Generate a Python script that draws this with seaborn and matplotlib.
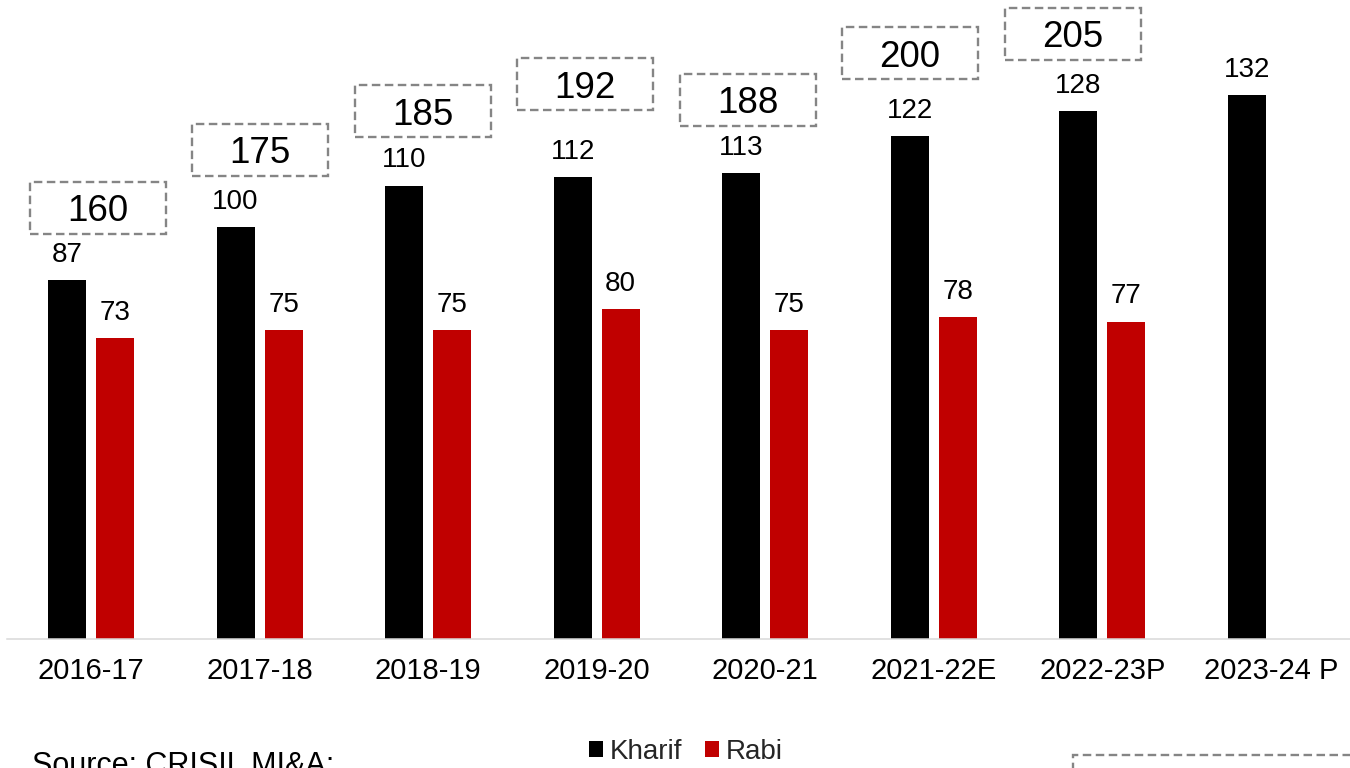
import matplotlib
matplotlib.use("Agg")
import matplotlib.pyplot as plt
from matplotlib.patches import Rectangle
from matplotlib.transforms import ScaledTranslation
import pandas as pd
import seaborn as sns

# Kharif / Rabi production by crop year
years = ["2016-17", "2017-18", "2018-19", "2019-20", "2020-21",
         "2021-22E", "2022-23P", "2023-24 P"]
kharif = [87, 100, 110, 112, 113, 122, 128, 132]
rabi = [73, 75, 75, 80, 75, 78, 77]
totals = [160, 175, 185, 192, 188, 200, 205]
seasons = ["Kharif", "Rabi"]
colors = {"Kharif": "#000000", "Rabi": "#C00000"}
source_note = "Source: CRISIL MI&A;"

sns.set_style("white")
plt.rcParams["font.family"] = ["Liberation Sans", "DejaVu Sans"]

rows = [(y, "Kharif", v) for y, v in zip(years, kharif)]
rows += [(y, "Rabi", v) for y, v in zip(years, rabi)]
df = pd.DataFrame(rows, columns=["year", "season", "value"])

W, H, DPI = 1350, 768, 100
fig = plt.figure(figsize=(W / DPI, H / DPI), dpi=DPI)
ax_rect = [6.7 / W, 129 / H, 1348.6 / W, 639 / H]
ax = fig.add_axes(ax_rect)

sns.barplot(data=df, x="year", y="value", hue="season", order=years,
            hue_order=seasons, palette=colors, saturation=1,
            width=0.57, gap=0.208, errorbar=None, linewidth=0, ax=ax)

for cont in ax.containers:
    ax.bar_label(cont, fmt="%.0f", padding=8.7, fontsize=20, color="#000000")

ax.set_xlim(-0.5, 7.5)
ax.set_ylim(0, 155)
ax.set_xlabel("")
ax.set_ylabel("")
ax.set_yticks([])
ax.tick_params(axis="x", length=0, pad=13, labelsize=21, colors="#000000")
for side in ["top", "right", "left"]:
    ax.spines[side].set_visible(False)
ax.spines["bottom"].set_color("#d9d9d9")
ax.spines["bottom"].set_linewidth(1.1)

handles, labels = ax.get_legend_handles_labels()
ax.get_legend().remove()
fig.legend(handles, labels, loc="center", bbox_to_anchor=(686 / W, 1 - 752 / H),
           ncol=2, frameon=False, fontsize=20, handlelength=0.5,
           handleheight=0.5, handletextpad=0.25, columnspacing=0.8,
           borderpad=0, borderaxespad=0)

dash_style = dict(fill=False, edgecolor="#858585", linewidth=1.7,
                  linestyle=(0, (3.6, 1.9)))

# Totals shown in dashed boxes on their own scale
ax2 = fig.add_axes(ax_rect)
ax2.set_xlim(-0.56, 7.74)
ax2.set_ylim(48.7, 213.8)
ax2.axis("off")
ax2.patch.set_visible(False)
for i, t in enumerate(totals):
    trans = fig.dpi_scale_trans + ScaledTranslation(i, t, ax2.transData)
    ax2.add_patch(Rectangle((-0.68, -0.26), 1.36, 0.52, transform=trans,
                            clip_on=False, **dash_style))
    ax2.annotate(f"{t}", (i, t), xytext=(0, -9.5), textcoords="offset points",
                 ha="center", va="baseline", fontsize=26.5, color="#000000")

fig.text(32 / W, 1 - 774 / H, source_note, ha="left", va="baseline",
         fontsize=22, color="#000000")
fig.patches.append(Rectangle((1073 / W, -0.1), 0.5, 1 - 755 / H + 0.1,
                             transform=fig.transFigure, **dash_style))

fig.savefig("out.png", dpi=DPI)
